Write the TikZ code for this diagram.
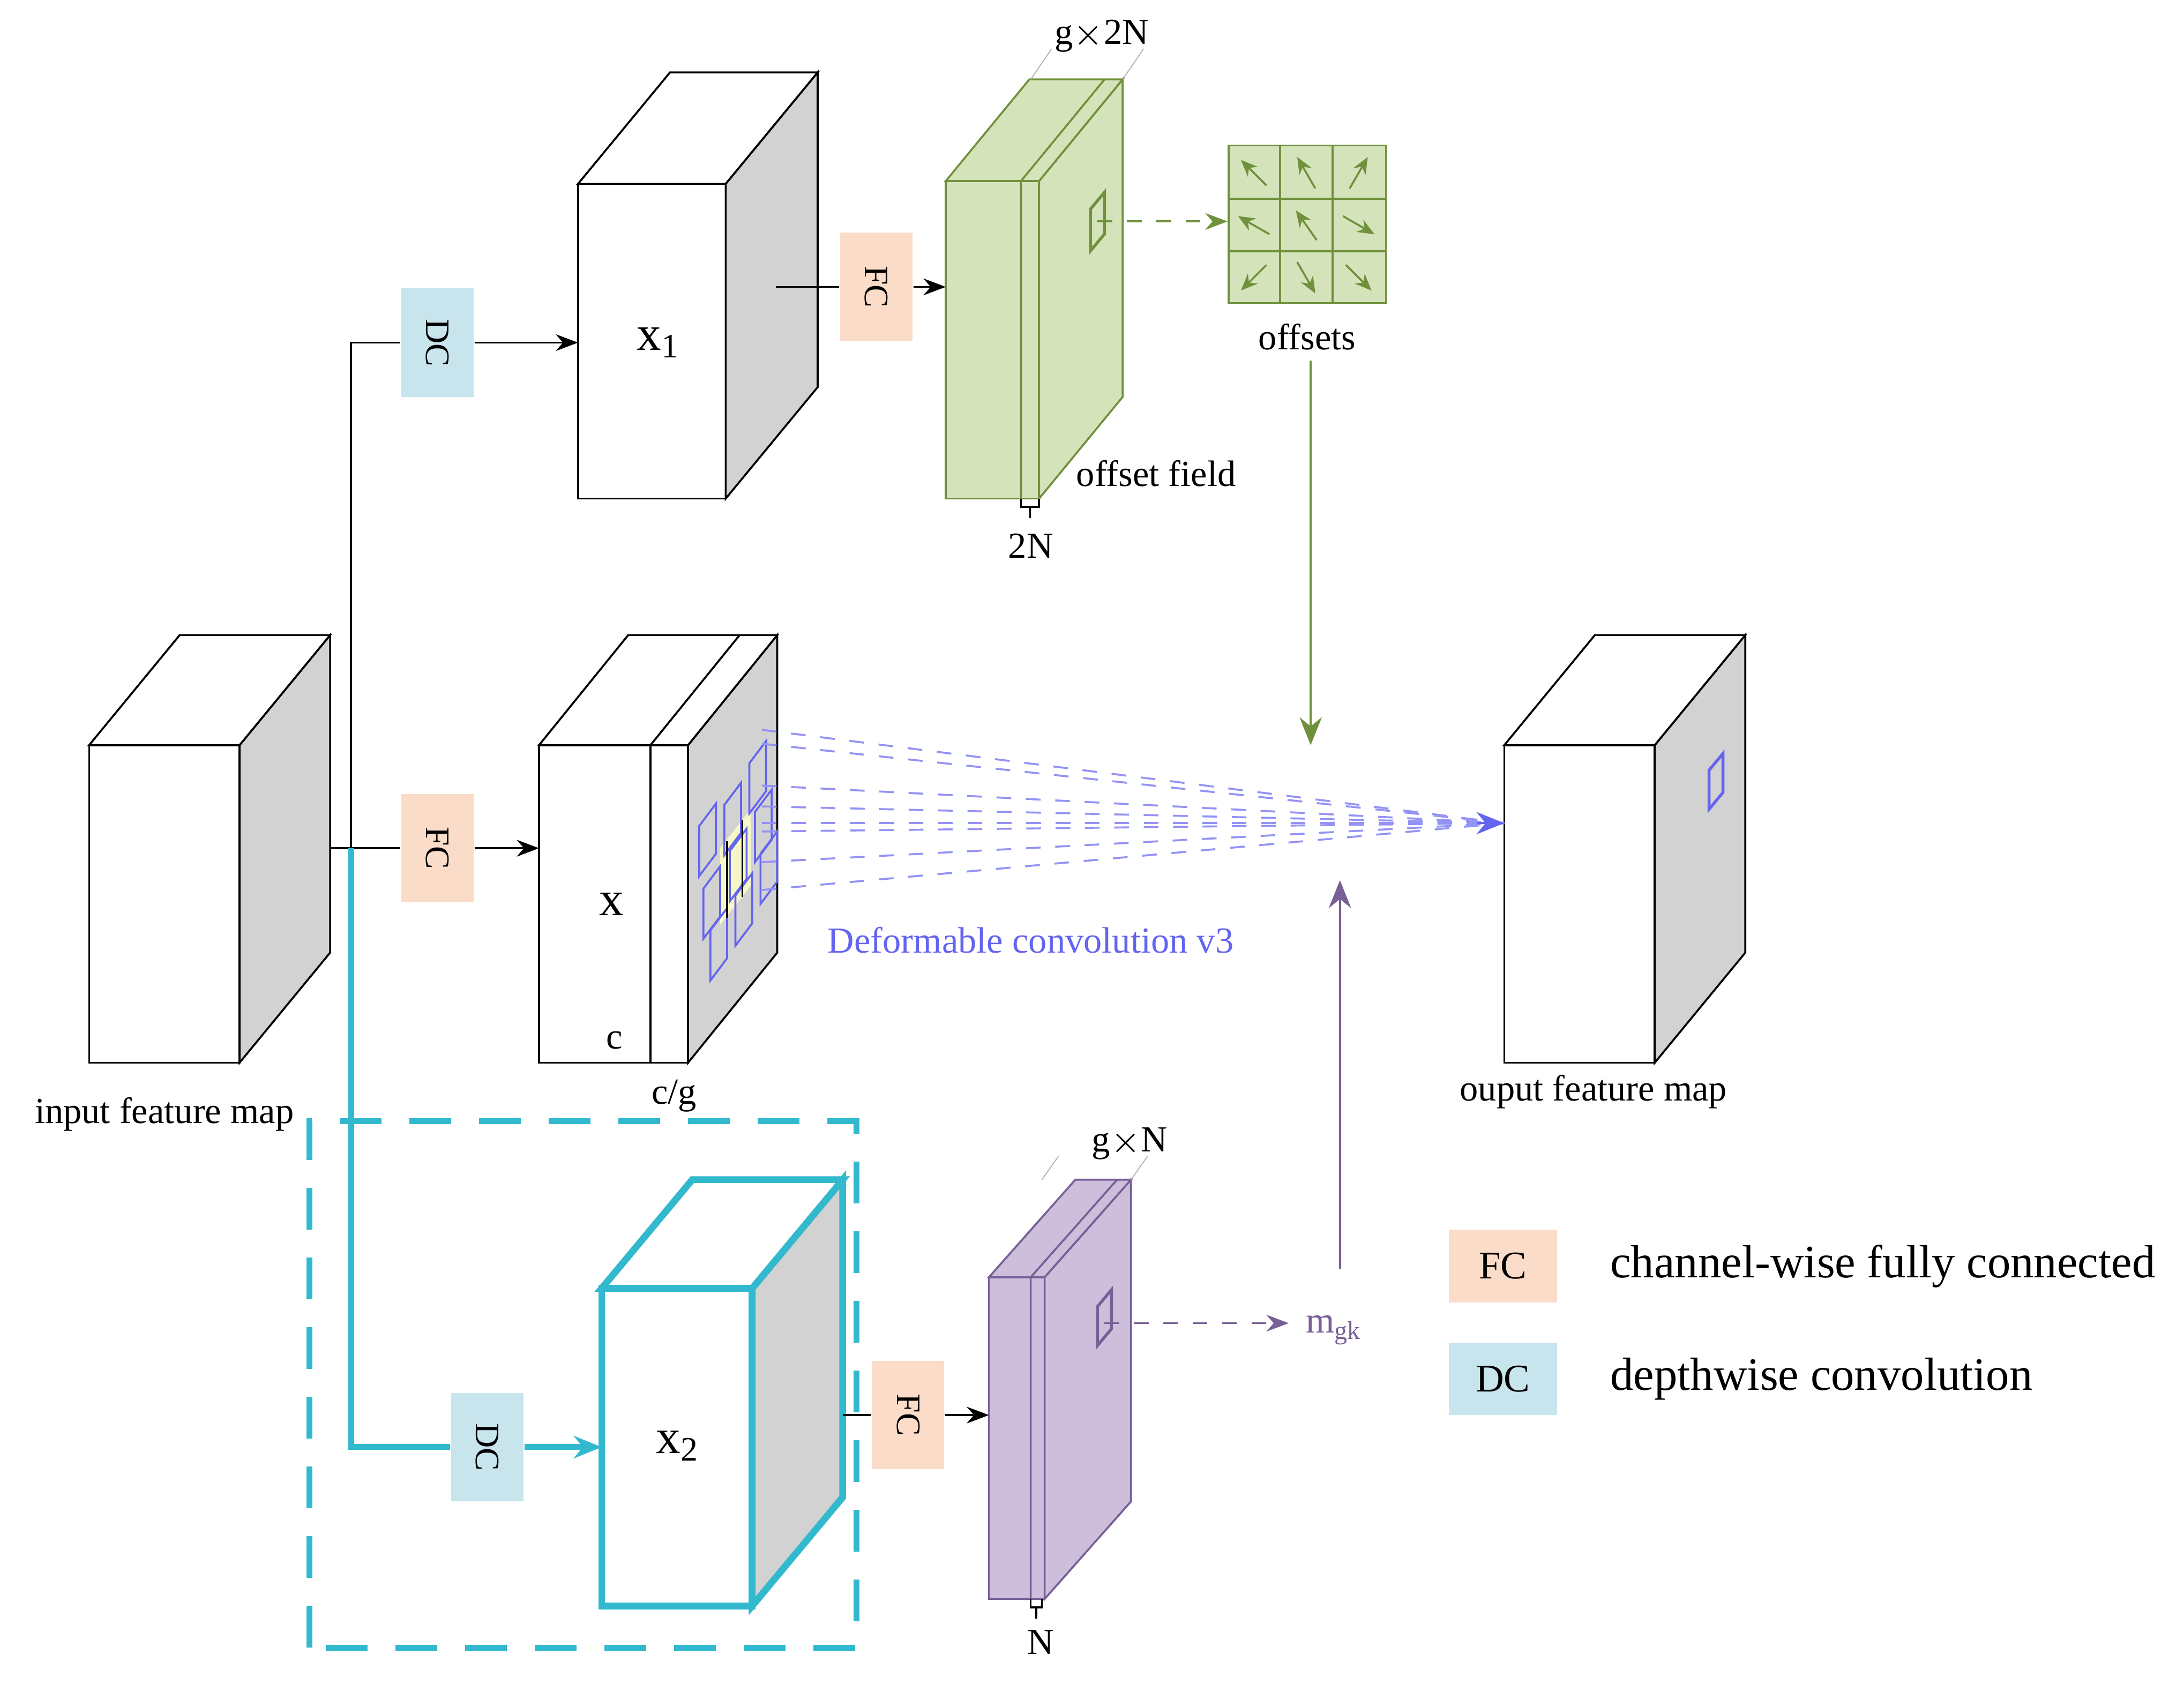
\documentclass[tikz,border=0pt]{standalone}
\usepackage{fontspec}
\setmainfont{Liberation Serif}
\usepackage{tikz}
\usetikzlibrary{positioning,arrows.meta,calc}

\definecolor{fcpink}{RGB}{250,220,200}
\definecolor{dcblue}{RGB}{200,228,236}
\definecolor{offgreen}{RGB}{213,227,186}
\definecolor{offdark}{RGB}{112,145,60}
\definecolor{maskpurple}{RGB}{205,190,220}
\definecolor{maskdark}{RGB}{120,95,150}
\definecolor{dcnblue}{RGB}{100,100,240}
\definecolor{boxcyan}{RGB}{50,185,205}

% front face as a node, then top and side faces
\newcommand{\block}[9]{%
\node[face, #8, minimum width = #4cm, minimum height = #5cm] (#1) at (#2,#3) {};
\filldraw[fill = white, #8, fill = #9] (#1.north east) -- ++(#6,#7) -- ++(0,-#5) -- (#1.south east) -- cycle;
\filldraw[fill = white, #8] (#1.north west) -- ++(#6,#7) -- ++(#4,0) -- (#1.north east) -- cycle;
}

\begin{document}
\begin{tikzpicture}[
  face/.style = {draw, fill = white, anchor = south west, inner sep = 0pt, outer sep = 0pt},
  op/.style = {shape = rectangle, minimum width = 0.52cm, minimum height = 0.78cm, inner sep = 0pt, font = \fontsize{7}{8}\selectfont},
  lbl/.style = {font = \fontsize{7.5}{9}\selectfont},
  arr/.style = {-{Stealth[length = 1.6mm, width = 1.2mm]}, thin}
]
\useasboundingbox (0,0) rectangle (15.68,12.09);

% cuboids
\block{xin}{0.64}{4.46}{1.08}{2.28}{0.65}{0.79}{draw = black, thin}{gray!35}
\block{xone}{4.15}{8.51}{1.06}{2.26}{0.66}{0.80}{draw = black, thin}{gray!35}
\block{x}{3.87}{4.46}{1.07}{2.28}{0.64}{0.79}{draw = black, thin}{gray!35}
\draw[thin] (4.67,4.46) -- (4.67,6.74) -- ++(0.64,0.79);
\block{xout}{10.80}{4.46}{1.08}{2.28}{0.65}{0.79}{draw = black, thin}{gray!35}
\block{off}{6.79}{8.51}{0.67}{2.28}{0.60}{0.73}{draw = offdark, fill = offgreen, thin}{offgreen}
\draw[offdark, thin] (7.33,8.51) -- (7.33,10.79) -- ++(0.60,0.73);
\block{mask}{7.10}{0.61}{0.40}{2.31}{0.62}{0.70}{draw = maskdark, fill = maskpurple, thin}{maskpurple}
\draw[maskdark, thin] (7.40,0.61) -- (7.40,2.92) -- ++(0.62,0.70);
\block{xtwo}{4.32}{0.56}{1.08}{2.28}{0.65}{0.78}{draw = boxcyan, line width = 1.4pt}{gray!35}

% sampling patches on x
\fill[offgreen!60!yellow!40] (5.17,5.45) -- ++(0,0.55) -- ++(0.22,0.28) -- ++(0,-0.55) -- cycle;
\foreach \px/\py in {5.02/5.80, 5.20/5.95, 5.38/6.25, 5.05/5.35, 5.24/5.62, 5.42/5.90, 5.10/5.05, 5.28/5.30, 5.46/5.60}
  \draw[dcnblue, thin] (\px,\py) -- ++(0,0.36) -- ++(0.12,0.16) -- ++(0,-0.36) -- cycle;
\draw[black, thin] (5.22,5.50) -- (5.22,6.05) (5.33,5.65) -- (5.33,6.20);

% offsets grid
\node[draw = offdark, fill = offgreen, minimum size = 1.13cm, inner sep = 0pt] (grid) at (9.385,10.48) {};
\foreach \i in {1,2} {
  \draw[offdark] ($(grid.south west)+(0.377*\i,0)$) -- ++(0,1.13);
  \draw[offdark] ($(grid.south west)+(0,0.377*\i)$) -- ++(1.13,0);
}
\foreach \cx/\cy/\ang in {0/2/135, 1/2/120, 2/2/60, 0/1/150, 1/1/125, 2/1/-30, 0/0/225, 1/0/-60, 2/0/-45}
  \draw[offdark, -{Stealth[length = 1.2mm, width = 1mm]}] ($(grid.south west)+(0.377*\cx+0.188,0.377*\cy+0.188)+(\ang+180:0.13)$) -- ++(\ang:0.26);
\node[lbl, below = 0.02cm of grid] (offlbl) {offsets};

% little patches
\draw[offdark, semithick] (7.83,10.29) -- ++(0,0.30) -- ++(0.10,0.12) -- ++(0,-0.30) -- cycle;
\coordinate (offpt) at (7.88,10.50);
\draw[maskdark, semithick] (7.88,2.43) -- ++(0,0.28) -- ++(0.10,0.12) -- ++(0,-0.28) -- cycle;
\coordinate (maskpt) at (7.93,2.59);
\draw[dcnblue, semithick] (12.27,6.28) -- ++(0,0.28) -- ++(0.10,0.12) -- ++(0,-0.28) -- cycle;

% operations
\node[op, fill = dcblue] (dc1) at (3.14,9.63) {\rotatebox{-90}{DC}};
\node[op, fill = fcpink] (fc1) at (6.29,10.03) {\rotatebox{-90}{FC}};
\node[op, fill = fcpink] (fc0) at (3.14,6.00) {\rotatebox{-90}{FC}};
\node[op, fill = dcblue] (dc2) at (3.50,1.70) {\rotatebox{-90}{DC}};
\node[op, fill = fcpink] (fc2) at (6.52,1.93) {\rotatebox{-90}{FC}};

% connectors
\coordinate (split) at (2.52,6.00);
\coordinate (inout) at (2.37,6.00);
\draw[thin] (inout) -- (fc0);
\draw[arr] (fc0) -- (x.west |- fc0);
\draw[thin] (2.52,4.20) -- (2.52,9.63) -- (dc1);
\draw[arr] (dc1) -- (xone.west |- dc1);
\draw[thin] (5.57,10.03) -- (fc1);
\draw[arr] (fc1) -- (off.west |- fc1);
\draw[boxcyan, line width = 1.2pt] (split) -- (2.52,1.70) -- (dc2);
\draw[boxcyan, line width = 1.2pt, -{Stealth[length = 2mm, width = 1.6mm]}] (dc2) -- (xtwo.west |- dc2);
\draw[thin] (6.05,1.93) -- (fc2);
\draw[arr] (fc2) -- (mask.west |- fc2);

\draw[offdark, dashed, -{Stealth[length = 1.6mm, width = 1.2mm]}] (offpt) -- (grid.west |- offpt);
\draw[offdark, -{Stealth[length = 2mm, width = 1.6mm]}] (9.41,9.50) -- (9.41,6.74);
\node[lbl, text = maskdark] (mgk) at (9.58,2.54) {m\textsubscript{gk}};
\draw[maskdark, dashed, -{Stealth[length = 1.6mm, width = 1.2mm]}] (maskpt) -- (mgk.west |- maskpt);
\draw[maskdark, -{Stealth[length = 2mm, width = 1.6mm]}] (9.62,2.98) -- (9.62,5.77);

\coordinate (target) at (10.80,6.18);
\foreach \sy in {6.85,6.75,6.45,6.30,6.18,6.12,5.90,5.70}
  \draw[dcnblue!70, dashed, thin] (5.47,\sy) -- (target);
\draw[dcnblue, -{Stealth[length = 2mm, width = 1.6mm]}] (10.60,6.18) -- (target);

% size marks
\draw[gray!60, very thin] (7.40,11.52) -- ++(0.15,0.22) (8.06,11.52) -- ++(0.15,0.22);
\draw[thin] (7.33,8.51) -- ++(0,-0.06) -- ++(0.13,0) -- ++(0,0.06) (7.395,8.45) -- ++(0,-0.08);
\draw[thin] (7.40,0.61) -- ++(0,-0.06) -- ++(0.08,0) -- ++(0,0.06) (7.44,0.55) -- ++(0,-0.08);
\draw[gray!60, very thin] (7.48,3.62) -- ++(0.12,0.17) (8.12,3.62) -- ++(0.12,0.17);

% texts
\node[lbl] at (4.39,5.60) {\fontsize{10}{12}\selectfont x};
\node[lbl] at (4.41,4.62) {c};
\node[lbl] at (4.84,4.22) {c/g};
\node[lbl] at (4.73,9.63) {\fontsize{10}{12}\selectfont x\textsubscript{1}};
\node[lbl] at (4.87,1.71) {\fontsize{10}{12}\selectfont x\textsubscript{2}};
\node[lbl] at (1.18,4.09) {input feature map};
\node[lbl] at (11.44,4.25) {ouput feature map};
\node[lbl] at (8.30,8.69) {offset field};
\node[lbl] at (7.40,8.17) {2N};
\node[lbl] at (7.47,0.30) {N};
\node[lbl] at (7.91,11.83) {g$\times$2N};
\node[lbl] at (8.11,3.88) {g$\times$N};
\node[lbl, text = dcnblue] at (7.40,5.34) {Deformable convolution v3};

% dashed frame
\draw[boxcyan, line width = 1.2pt, dash pattern = on 0.3cm off 0.2cm] (2.22,0.26) rectangle (6.15,4.04);

% legend
\node[op, fill = fcpink, minimum width = 0.78cm, minimum height = 0.52cm, font = \fontsize{8}{9}\selectfont] (legfc) at (10.79,3.00) {FC};
\node[op, fill = dcblue, minimum width = 0.78cm, minimum height = 0.52cm, font = \fontsize{8}{9}\selectfont] (legdc) at (10.79,2.19) {DC};
\node[right = 0.25cm of legfc, font = \fontsize{9.5}{11}\selectfont] {channel-wise fully connected};
\node[right = 0.25cm of legdc, font = \fontsize{9.5}{11}\selectfont] {depthwise convolution};
\end{tikzpicture}
\end{document}
